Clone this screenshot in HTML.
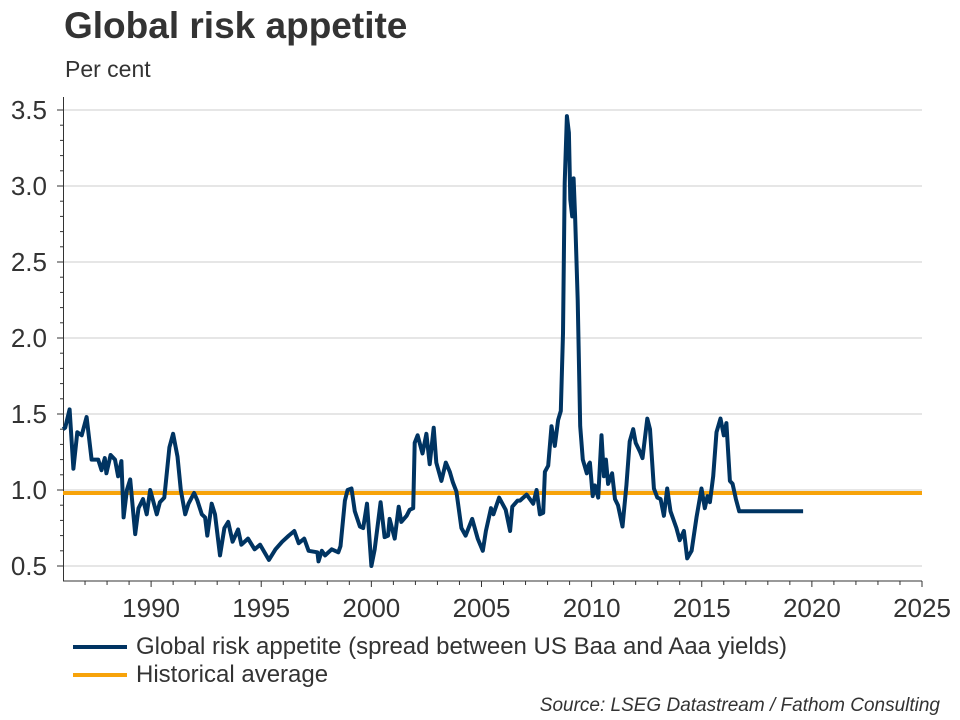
<!DOCTYPE html>
<html><head><meta charset="utf-8"><style>
body{margin:0;background:#fff;}
svg{display:block;font-family:"Liberation Sans",Arial,sans-serif;}
</style></head><body>
<svg id="c" width="960" height="720">
<text x="64" y="38" font-size="37" font-weight="bold" fill="#333">Global risk appetite</text>
<text x="65" y="77" font-size="23" fill="#333">Per cent</text>
<g id="grid"></g><g id="axes"></g><g id="series"></g>
<g>
<line x1="73" y1="647" x2="127" y2="647" stroke="#003462" stroke-width="4"/>
<text x="136" y="654" font-size="24" fill="#333">Global risk appetite (spread between US Baa and Aaa yields)</text>
<line x1="73" y1="675" x2="127" y2="675" stroke="#f7a30a" stroke-width="4"/>
<text x="136" y="682" font-size="24" fill="#333">Historical average</text>
</g>
<text x="940" y="711" font-size="19" font-style="italic" fill="#333" text-anchor="end">Source: LSEG Datastream / Fathom Consulting</text>
</svg>
<script>
const dates=[1986.0,1986.1,1986.3,1986.47,1986.65,1986.85,1987.07,1987.3,1987.6,1987.75,1987.9,1987.97,1988.16,1988.36,1988.5,1988.65,1988.75,1988.9,1989.05,1989.28,1989.43,1989.63,1989.8,1989.96,1990.26,1990.4,1990.6,1990.83,1991.0,1991.2,1991.35,1991.55,1991.7,1991.95,1992.1,1992.3,1992.45,1992.55,1992.75,1992.9,1993.13,1993.33,1993.5,1993.7,1993.95,1994.1,1994.4,1994.7,1994.95,1995.35,1995.65,1995.95,1996.25,1996.5,1996.7,1996.95,1997.15,1997.55,1997.6,1997.75,1997.9,1998.2,1998.5,1998.6,1998.8,1998.92,1999.1,1999.25,1999.48,1999.63,1999.8,2000.0,2000.15,2000.42,2000.6,2000.76,2000.83,2001.06,2001.24,2001.36,2001.6,2001.74,2001.9,2001.97,2002.1,2002.32,2002.5,2002.65,2002.83,2002.95,2003.18,2003.38,2003.56,2003.7,2003.86,2004.09,2004.28,2004.58,2004.83,2005.06,2005.2,2005.43,2005.54,2005.8,2006.1,2006.3,2006.4,2006.64,2006.75,2007.05,2007.35,2007.5,2007.65,2007.8,2007.88,2008.03,2008.18,2008.33,2008.48,2008.6,2008.7,2008.78,2008.88,2008.97,2009.03,2009.12,2009.18,2009.25,2009.37,2009.48,2009.6,2009.78,2009.87,2009.92,2010.05,2010.15,2010.3,2010.45,2010.56,2010.65,2010.75,2010.93,2011.06,2011.2,2011.4,2011.58,2011.73,2011.89,2012.0,2012.2,2012.31,2012.53,2012.65,2012.83,2012.98,2013.13,2013.28,2013.43,2013.58,2013.85,2014.0,2014.19,2014.34,2014.54,2014.76,2014.99,2015.14,2015.26,2015.37,2015.52,2015.67,2015.85,2016.0,2016.12,2016.28,2016.4,2016.55,2016.7,2019.6];
const values=[1.40,1.41,1.53,1.14,1.38,1.36,1.48,1.20,1.20,1.13,1.21,1.11,1.23,1.20,1.09,1.19,0.82,1.00,1.07,0.71,0.88,0.94,0.84,1.00,0.84,0.92,0.95,1.28,1.37,1.22,1.00,0.84,0.91,0.98,0.93,0.84,0.82,0.70,0.91,0.84,0.57,0.75,0.79,0.66,0.74,0.64,0.68,0.61,0.64,0.54,0.61,0.66,0.70,0.73,0.65,0.68,0.60,0.59,0.53,0.60,0.57,0.61,0.59,0.63,0.93,1.00,1.01,0.86,0.76,0.75,0.91,0.50,0.61,0.92,0.69,0.70,0.81,0.68,0.89,0.79,0.83,0.87,0.88,1.31,1.36,1.24,1.37,1.17,1.41,1.18,1.06,1.18,1.12,1.05,0.99,0.75,0.70,0.81,0.68,0.60,0.73,0.88,0.84,0.95,0.87,0.73,0.89,0.93,0.93,0.97,0.91,1.00,0.84,0.85,1.12,1.16,1.42,1.29,1.46,1.52,2.03,3.02,3.46,3.35,2.91,2.80,3.05,2.80,2.25,1.42,1.20,1.11,1.17,1.18,0.96,1.03,0.95,1.36,1.09,1.20,1.04,1.11,0.94,0.90,0.76,1.03,1.32,1.40,1.31,1.25,1.21,1.47,1.40,1.01,0.95,0.94,0.83,1.01,0.86,0.75,0.67,0.73,0.55,0.60,0.82,1.01,0.88,0.96,0.92,1.09,1.38,1.47,1.36,1.44,1.06,1.04,0.94,0.86,0.86,0.86];
const average=[0.98];
const yTicks=[0.5,1.0,1.5,2.0,2.5,3.0,3.5];
const xTicks=[1990,1995,2000,2005,2010,2015,2020,2025];
const NS='http://www.w3.org/2000/svg';
const X0=63,X1=922,XMIN=1986,XMAX=2025,Y0=566,YPX=152;
function xs(t){return X0+(t-XMIN)*(X1-X0)/(XMAX-XMIN);}
function ys(v){return Y0-(v-0.5)*YPX;}
function mk(tag,attrs,parent){const e=document.createElementNS(NS,tag);for(const k in attrs)e.setAttribute(k,attrs[k]);parent.appendChild(e);return e;}
const grid=document.getElementById('grid'),axes=document.getElementById('axes'),series=document.getElementById('series');
yTicks.forEach(v=>{
 const g=mk('line',{x1:X0,x2:X1,y1:ys(v),y2:ys(v),stroke:'#cccccc','stroke-width':1},grid);
 
 
 const t=mk('line',{x1:X0-6,x2:X0,y1:ys(v),y2:ys(v),stroke:'#333','stroke-width':1},axes);
 
 
 const l=mk('text',{x:47,y:ys(v)+9,'font-size':26,fill:'#333','text-anchor':'end'},axes);
 l.textContent=v.toFixed(1);
 
 
});
for(let v=0.4;v<=3.6;v+=0.1){const y=ys(v);if(y<97||y>581)continue;
 const m=mk('line',{x1:X0-3,x2:X0,y1:y,y2:y,stroke:'#333','stroke-width':1},axes);
 
 }
for(let yr=XMIN+1;yr<=XMAX;yr++){const major=xTicks.indexOf(yr)>=0;
 const m=mk('line',{x1:xs(yr),x2:xs(yr),y1:581,y2:major?587:585,stroke:'#333','stroke-width':1},axes);
 
 }
xTicks.forEach(yr=>{
 const l=mk('text',{x:xs(yr),y:617,'font-size':26,fill:'#333','text-anchor':'middle'},axes);
 l.textContent=yr;
 
 
});
const ya=mk('line',{x1:X0+0.5,x2:X0+0.5,y1:97,y2:581,stroke:'#333','stroke-width':1},axes);


const xa=mk('line',{x1:X0,x2:X1,y1:581,y2:581,stroke:'#333','stroke-width':1},axes);


const avg=mk('line',{x1:X0,x2:X1,y1:ys(average[0]),y2:ys(average[0]),stroke:'#f7a30a','stroke-width':4},series);


const p=mk('polyline',{points:dates.map((d,i)=>xs(d).toFixed(1)+','+ys(values[i]).toFixed(1)).join(' '),fill:'none',stroke:'#003462','stroke-width':4,'stroke-linejoin':'round'},series);


</script>
</body></html>
